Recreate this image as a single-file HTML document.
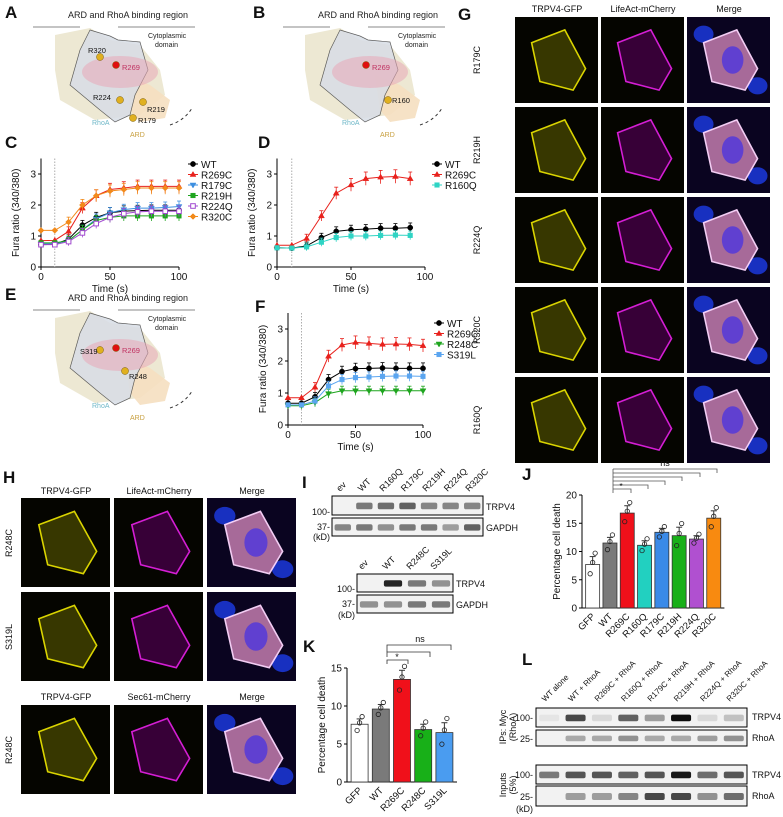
<!DOCTYPE html>
<html><head><meta charset="utf-8"><style>
html,body{margin:0;padding:0;background:#fff}
svg{display:block;font-family:"Liberation Sans",Arial,sans-serif}
</style></head><body>
<svg id="fig" width="783" height="817" viewBox="0 0 783 817" xmlns="http://www.w3.org/2000/svg"></svg>
<script>
// ---- Data ----
const timesC = [0,10,20,30,40,50,60,70,80,90,100];
const seriesNamesC = ["WT","R269C","R179C","R219H","R224Q","R320C"];
const cWT    = [0.72,0.73,0.9,1.35,1.6,1.75,1.8,1.82,1.83,1.83,1.83];
const cR269C = [0.85,0.86,1.15,1.9,2.3,2.5,2.55,2.6,2.6,2.6,2.6];
const cR179C = [0.75,0.75,0.85,1.2,1.55,1.75,1.85,1.9,1.9,1.92,1.95];
const cR219H = [0.78,0.78,0.85,1.2,1.5,1.6,1.65,1.65,1.65,1.65,1.65];
const cR224Q = [0.72,0.72,0.82,1.1,1.4,1.6,1.72,1.78,1.8,1.8,1.8];
const cR320C = [1.18,1.18,1.45,2.0,2.3,2.45,2.5,2.55,2.55,2.55,2.55];
const timesD = [0,10,20,30,40,50,60,70,80,90];
const seriesNamesD = ["WT","R269C","R160Q"];
const dWT    = [0.62,0.61,0.68,0.95,1.15,1.2,1.22,1.25,1.25,1.27];
const dR269C = [0.7,0.7,0.92,1.65,2.38,2.65,2.85,2.9,2.92,2.85];
const dR160Q = [0.62,0.61,0.65,0.8,0.95,1.0,1.0,1.02,1.03,1.02];
const timesF = [0,10,20,30,40,50,60,70,80,90,100];
const seriesNamesF = ["WT","R269C","R248C","S319L"];
const fWT    = [0.68,0.68,0.88,1.42,1.67,1.76,1.77,1.78,1.77,1.77,1.77];
const fR269C = [0.85,0.85,1.18,2.15,2.5,2.58,2.55,2.52,2.53,2.52,2.48];
const fR248C = [0.6,0.6,0.7,0.98,1.07,1.07,1.07,1.07,1.07,1.07,1.07];
const fS319L = [0.63,0.63,0.75,1.22,1.42,1.48,1.5,1.52,1.53,1.53,1.52];
const yTicksRatio = [0,1,2,3];
const xTicksTime = [0,50,100];
const catsJ = ["GFP","WT","R269C","R160Q","R179C","R219H","R224Q","R320C"];
const valsJ = [7.7,11.5,16.8,11.1,13.4,12.8,12.2,15.9];
const errJ  = [1.4,1.0,1.3,0.8,0.7,1.5,0.6,1.3];
const ticksJ = [0,5,10,15,20];
const catsK = ["GFP","WT","R269C","R248C","S319L"];
const valsK = [7.6,9.6,13.5,6.9,6.5];
const errK  = [0.7,0.6,1.2,0.7,1.3];
const ticksK = [0,5,10,15];

const S = document.getElementById('fig');
const NS = "http://www.w3.org/2000/svg";
function el(tag, attrs, parent){const e=document.createElementNS(NS,tag);for(const k in attrs)e.setAttribute(k,attrs[k]);(parent||S).appendChild(e);return e;}
function txt(x,y,s,size,opts){opts=opts||{};const t=el('text',{x:x,y:y,'font-size':size,fill:opts.fill||'#111','text-anchor':opts.anchor||'start','font-weight':opts.bold?'bold':'normal'});if(opts.rot)t.setAttribute('transform','rotate('+opts.rot+' '+x+' '+y+')');t.textContent=s;return t;}
function lab(x,y,s){const t=txt(x,y,s,17,{bold:true});}

[["A",5,18],["B",253,18],["C",5,148],["D",258,148],["E",5,300],["F",255,312],["G",458,20],["H",3,483],["I",302,488],["J",522,480],["K",303,652],["L",522,665]].forEach(a=>lab(a[1],a[2],a[0]));

function diagram(dx,dy,residues,name){
  const g=el('g',{transform:'translate('+dx+','+dy+')'});
  
  
  const t=el('text',{x:128,y:18,'font-size':9,'text-anchor':'middle',fill:'#222'},g);t.textContent='ARD and RhoA binding region';
  el('line',{x1:33,y1:27,x2:80,y2:27,stroke:'#888'},g);
  el('line',{x1:118,y1:27,x2:195,y2:27,stroke:'#888'},g);
  el('path',{d:'M55,35 L90,28 L110,40 L140,45 L160,70 L165,95 L140,115 L95,120 L60,100 L55,70 Z',fill:'#e9e2c8',opacity:0.8},g);
  el('path',{d:'M125,75 L150,85 L170,100 L165,118 L140,122 L130,110 Z',fill:'#f5dfc0',opacity:0.9},g);
  el('path',{d:'M90,30 L110,36 L118,40 L140,42 L148,70 L135,95 L130,115 L115,122 L100,110 L70,85 L80,50 Z',fill:'#d8dde6',stroke:'#444','stroke-width':0.7,opacity:0.85},g);
  el('ellipse',{cx:120,cy:72,rx:38,ry:16,fill:'#e8a8b8',opacity:0.55},g);
  const t2=el('text',{x:148,y:38,'font-size':7,fill:'#222'},g);t2.textContent='Cytoplasmic';
  const t3=el('text',{x:155,y:47,'font-size':7,fill:'#222'},g);t3.textContent='domain';
  const t4=el('text',{x:92,y:125,'font-size':7,fill:'#6fb8c8'},g);t4.textContent='RhoA';
  const t5=el('text',{x:130,y:137,'font-size':7,fill:'#c8a040'},g);t5.textContent='ARD';
  el('path',{d:'M170,125 Q185,120 192,108',fill:'none',stroke:'#333','stroke-dasharray':'3,3'},g);
  residues.forEach(r=>{
    el('circle',{cx:r[0],cy:r[1],r:3.5,fill:r[3]?'#e01010':'#e0b020',stroke:'#7a5a00','stroke-width':0.5},g);
    const tt=el('text',{x:r[0]+r[4],y:r[1]+r[5],'font-size':7.5,fill:r[3]?'#c03060':'#111'},g);tt.textContent=r[2];
  });
}
diagram(0,0,[[100,57,'R320',0,-12,-4],[116,65,'R269',1,6,5],[120,100,'R224',0,-27,0],[143,102,'R219',0,4,10],[133,118,'R179',0,5,5]],'structure-diagram-a');
diagram(250,0,[[116,65,'R269',1,6,5],[138,100,'R160',0,4,3]],'structure-diagram-b');
diagram(0,283,[[100,67,'S319',0,-20,4],[116,65,'R269',1,6,5],[125,88,'R248',0,4,8]],'structure-diagram-e');

const markers={WT:['circle','#000',false],R269C:['triup','#e8211c',false],R179C:['tridown','#3d8fe0',false],R219H:['square','#1fa51f',false],R224Q:['square','#a24bd0',true],R320C:['diamond','#f28a1a',false],R160Q:['square','#2ed4c4',false],R248C:['tridown','#1fa51f',false],S319L:['square','#5aa5f0',false]};
function marker(g,type,x,y,c,open){
  let e;
  if(type==='circle')e=el('circle',{cx:x,cy:y,r:2.6},g);
  else if(type==='square')e=el('rect',{x:x-2.3,y:y-2.3,width:4.6,height:4.6},g);
  else if(type==='triup')e=el('path',{d:`M${x},${y-3} L${x+3},${y+2} L${x-3},${y+2}Z`},g);
  else if(type==='tridown')e=el('path',{d:`M${x},${y+3} L${x+3},${y-2} L${x-3},${y-2}Z`},g);
  else e=el('path',{d:`M${x},${y-3} L${x+3},${y} L${x},${y+3} L${x-3},${y}Z`},g);
  e.setAttribute('fill',open?'#fff':c);e.setAttribute('stroke',c);e.setAttribute('stroke-width',open?1:0.5);
}
function lineChart(cfg){
  const g=el('g',{});
  
  
  const X=t=>cfg.x0+(cfg.x1-cfg.x0)*t/100, Y=v=>cfg.y0-(cfg.y0-cfg.y3)*v/3;
  el('line',{x1:cfg.x0,y1:Y(3.5),x2:cfg.x0,y2:cfg.y0,stroke:'#000','stroke-width':1},g);
  el('line',{x1:cfg.x0,y1:cfg.y0,x2:X(100),y2:cfg.y0,stroke:'#000','stroke-width':1},g);
  el('line',{x1:X(10),y1:Y(3.5),x2:X(10),y2:cfg.y0,stroke:'#999','stroke-dasharray':'1.5,1.5','stroke-width':0.8},g);
  yTicksRatio.forEach(v=>{el('line',{x1:cfg.x0-3,y1:Y(v),x2:cfg.x0,y2:Y(v),stroke:'#000'},g);const t=el('text',{x:cfg.x0-5,y:Y(v)+3.5,'font-size':10,'text-anchor':'end',fill:'#111'},g);t.textContent=v;});
  xTicksTime.forEach(v=>{el('line',{x1:X(v),y1:cfg.y0,x2:X(v),y2:cfg.y0+3,stroke:'#000'},g);const t=el('text',{x:X(v),y:cfg.y0+13,'font-size':10,'text-anchor':'middle',fill:'#111'},g);t.textContent=v;});
  const tl=el('text',{x:X(50),y:cfg.y0+25,'font-size':10,'text-anchor':'middle',fill:'#111'},g);tl.textContent='Time (s)';
  
  const yl=el('text',{x:cfg.x0-22,y:(cfg.y0+Y(3.5))/2,'font-size':10,'text-anchor':'middle',fill:'#111',transform:`rotate(-90 ${cfg.x0-22} ${(cfg.y0+Y(3.5))/2})`},g);yl.textContent='Fura ratio (340/380)';
  
  cfg.series.forEach((s,i)=>{
    const m=markers[s.n];
    const sg=el('g',{},g);
    
    
    el('polyline',{points:s.v.map((v,k)=>X(cfg.t[k])+','+Y(v)).join(' '),fill:'none',stroke:m[1],'stroke-width':1},sg);
    s.v.forEach((v,k)=>{
      if(k>=2){const e=0.1+v*0.04;el('line',{x1:X(cfg.t[k]),y1:Y(v-e),x2:X(cfg.t[k]),y2:Y(v+e),stroke:m[1],'stroke-width':0.8},sg);el('line',{x1:X(cfg.t[k])-2,y1:Y(v+e),x2:X(cfg.t[k])+2,y2:Y(v+e),stroke:m[1],'stroke-width':0.8},sg);}
      marker(sg,m[0],X(cfg.t[k]),Y(v),m[1],m[2]);
    });
    const ly=cfg.ly+i*10.5;
    const lg=el('g',{},g);
    
    
    el('line',{x1:cfg.lx,y1:ly,x2:cfg.lx+10,y2:ly,stroke:m[1]},lg);
    marker(lg,m[0],cfg.lx+5,ly,m[1],m[2]);
    const lt=el('text',{x:cfg.lx+13,y:ly+4,'font-size':10,fill:'#111'},lg);lt.textContent=s.n;
  });
}
lineChart({name:'chart-c',x0:41,x1:179,y0:267,y3:174,t:timesC,lx:188,ly:164,series:[{n:'WT',v:cWT},{n:'R269C',v:cR269C},{n:'R179C',v:cR179C},{n:'R219H',v:cR219H},{n:'R224Q',v:cR224Q},{n:'R320C',v:cR320C}]});
lineChart({name:'chart-d',x0:277,x1:425,y0:267,y3:174,t:timesD,lx:432,ly:164,series:[{n:'WT',v:dWT},{n:'R269C',v:dR269C},{n:'R160Q',v:dR160Q}]});
lineChart({name:'chart-f',x0:288,x1:423,y0:425,y3:329,t:timesF,lx:434,ly:323,series:[{n:'WT',v:fWT},{n:'R269C',v:fR269C},{n:'R248C',v:fR248C},{n:'S319L',v:fS319L}]});

const chanCol=['#e6e000','#e020e0','#ffffff'];
function micro(x,y,w,h,col,kind,name){
  const g=el('g',{});
  
  
  el('rect',{x:x,y:y,width:w,height:h,fill:kind===2?'#0a0420':'#050500'},g);
  if(kind===2){el('ellipse',{cx:x+w*0.2,cy:y+h*0.2,rx:w*0.12,ry:h*0.1,fill:'#1830c0'},g);el('ellipse',{cx:x+w*0.85,cy:y+h*0.8,rx:w*0.12,ry:h*0.1,fill:'#1830c0'},g);}
  el('path',{d:`M${x+w*0.2},${y+h*0.3} L${x+w*0.6},${y+h*0.15} L${x+w*0.85},${y+h*0.6} L${x+w*0.7},${y+h*0.85} L${x+w*0.3},${y+h*0.75} Z`,fill:kind===2?'#b070a0':(kind===0?'#3a3a00':'#3a003a'),stroke:kind===2?'#ffd8ff':col,'stroke-width':1.6,opacity:0.95},g);
  if(kind===2)el('ellipse',{cx:x+w*0.55,cy:y+h*0.5,rx:w*0.13,ry:h*0.16,fill:'#6040d0'},g);
}
const gCols=[515,601,687], gRows=[17,107,197,287,377], gLabels=['R179C','R219H','R224Q','R320C','R160Q'];
['TRPV4-GFP','LifeAct-mCherry','Merge'].forEach((s,i)=>txt(gCols[i]+42,12,s,9,{anchor:'middle'}));
gRows.forEach((y,r)=>{txt(480,y+43,gLabels[r],9,{anchor:'middle',rot:-90});gCols.forEach((x,c)=>micro(x,y,83,86,chanCol[c],c,'image-g-'+gLabels[r].toLowerCase()+'-'+c));});
const hCols=[21,114,207], hRows=[498,592,705], hLabels=['R248C','S319L','R248C'];
['TRPV4-GFP','LifeAct-mCherry','Merge'].forEach((s,i)=>txt(hCols[i]+45,494,s,9,{anchor:'middle'}));
['TRPV4-GFP','Sec61-mCherry','Merge'].forEach((s,i)=>txt(hCols[i]+45,700,s,9,{anchor:'middle'}));
hRows.forEach((y,r)=>{txt(12,y+45,hLabels[r],9,{anchor:'middle',rot:-90});hCols.forEach((x,c)=>micro(x,y,89,89,chanCol[c],c,'image-h-'+r+'-'+c));});

function blot(x,y,w,h,n,intens,name){
  const g=el('g',{});
  
  
  el('rect',{x:x,y:y,width:w,height:h,fill:'#f2f2f2',stroke:'#000','stroke-width':1},g);
  const lw=w/n;
  intens.forEach((a,i)=>{if(a>0)el('rect',{x:x+i*lw+lw*0.12,y:y+h*0.35,width:lw*0.76,height:h*0.35,fill:'#000',opacity:a,rx:2},g);});
}
const laneI1=['ev','WT','R160Q','R179C','R219H','R224Q','R320C'];
laneI1.forEach((s,i)=>txt(340+i*21.5,492,s,9,{rot:-45}));
blot(332,496,151,19,7,[0,0.5,0.55,0.6,0.45,0.45,0.45],'blot-i-trpv4');
blot(332,518,151,18,7,[0.45,0.5,0.4,0.5,0.5,0.35,0.6],'blot-i-gapdh');
txt(486,510,'TRPV4',9);txt(486,531,'GAPDH',9);
txt(330,515,'100-',9,{anchor:'end'});txt(330,530,'37-',9,{anchor:'end'});txt(330,540,'(kD)',9,{anchor:'end'});
['ev','WT','R248C','S319L'].forEach((s,i)=>txt(362+i*24,570,s,9,{rot:-45}));
blot(357,574,96,18,4,[0,0.85,0.5,0.4],'blot-i2-trpv4');
blot(357,595,96,18,4,[0.4,0.4,0.5,0.5],'blot-i2-gapdh');
txt(456,587,'TRPV4',9);txt(456,608,'GAPDH',9);
txt(355,592,'100-',9,{anchor:'end'});txt(355,607,'37-',9,{anchor:'end'});txt(355,618,'(kD)',9,{anchor:'end'});
const laneL=['WT alone','WT + RhoA','R269C + RhoA','R160Q + RhoA','R179C + RhoA','R219H + RhoA','R224Q + RhoA','R320C + RhoA'];
laneL.forEach((s,i)=>txt(545+i*26.4,702,s,8,{rot:-45}));
blot(536,708,211,19,8,[0.05,0.7,0.1,0.6,0.35,0.95,0.1,0.2],'blot-l-ip-trpv4');
blot(536,730,211,16,8,[0,0.3,0.3,0.4,0.3,0.3,0.35,0.4],'blot-l-ip-rhoa');
blot(536,765,211,19,8,[0.5,0.65,0.65,0.6,0.65,0.9,0.55,0.65],'blot-l-in-trpv4');
blot(536,786,211,20,8,[0,0.35,0.35,0.45,0.7,0.7,0.4,0.55],'blot-l-in-rhoa');
txt(752,720,'TRPV4',9);txt(752,741,'RhoA',9);txt(752,778,'TRPV4',9);txt(752,799,'RhoA',9);
txt(533,721,'100-',9,{anchor:'end'});txt(533,742,'25-',9,{anchor:'end'});txt(533,778,'100-',9,{anchor:'end'});txt(533,800,'25-',9,{anchor:'end'});txt(533,812,'(kD)',9,{anchor:'end'});
txt(506,727,'IPs: Myc',9,{anchor:'middle',rot:-90});txt(516,727,'(RhoA)',9,{anchor:'middle',rot:-90});
txt(506,785,'Inputs',9,{anchor:'middle',rot:-90});txt(516,785,'(5%)',9,{anchor:'middle',rot:-90});

const barColsJ=['#ffffff','#7a7a7a','#f0101a','#22d0c0','#3a8ae8','#18b018','#b050d0','#f88a10'];
const barColsK=['#ffffff','#7a7a7a','#f0101a','#18b018','#4a9cf0'];
function barChart(cfg){
  const g=el('g',{});
  
  
  const Y=v=>cfg.y0-(cfg.y0-cfg.yTop)*v/cfg.max;
  el('line',{x1:cfg.x0,y1:Y(cfg.max),x2:cfg.x0,y2:cfg.y0,stroke:'#000'},g);
  el('line',{x1:cfg.x0,y1:cfg.y0,x2:cfg.x0+cfg.step*(cfg.cats.length)+4,y2:cfg.y0,stroke:'#000'},g);
  cfg.ticks.forEach(v=>{el('line',{x1:cfg.x0-3,y1:Y(v),x2:cfg.x0,y2:Y(v),stroke:'#000'},g);const t=el('text',{x:cfg.x0-5,y:Y(v)+3.5,'font-size':10,'text-anchor':'end',fill:'#111'},g);t.textContent=v;});
  const yl=el('text',{x:cfg.x0-22,y:(cfg.y0+Y(cfg.max))/2,'font-size':10,'text-anchor':'middle',fill:'#111',transform:`rotate(-90 ${cfg.x0-22} ${(cfg.y0+Y(cfg.max))/2})`},g);yl.textContent='Percentage cell death';
  cfg.cats.forEach((c,i)=>{
    const cx=cfg.x0+cfg.step*(i+0.5)+2;
    const b=el('rect',{x:cx-cfg.bw/2,y:Y(cfg.vals[i]),width:cfg.bw,height:cfg.y0-Y(cfg.vals[i]),fill:cfg.cols[i],stroke:'#333','stroke-width':0.8},g);
    
    
    const top=Y(cfg.vals[i]+cfg.err[i]);
    el('line',{x1:cx,y1:Y(cfg.vals[i]),x2:cx,y2:top,stroke:'#333'},g);
    el('line',{x1:cx-3,y1:top,x2:cx+3,y2:top,stroke:'#333'},g);
    [-0.9,0.2,1.1].forEach((d,k)=>el('circle',{cx:cx+(k-1)*2.5,cy:Y(cfg.vals[i]+d*cfg.err[i]*1.3),r:2.2,fill:'none',stroke:'#222','stroke-width':0.8},g));
    const t=el('text',{x:cx+3,y:cfg.y0+9,'font-size':9.5,'text-anchor':'end',fill:'#111',transform:`rotate(-45 ${cx+3} ${cfg.y0+9})`},g);t.textContent=c;
  });
}
barChart({name:'chart-j',cats:catsJ,vals:valsJ,err:errJ,cols:barColsJ,ticks:ticksJ,max:20,x0:582,y0:608,yTop:495,step:17.3,bw:14});
barChart({name:'chart-k',cats:catsK,vals:valsK,err:errK,cols:barColsK,ticks:ticksK,max:15,x0:347,y0:782,yTop:668,step:21.2,bw:17});
// significance brackets J
[[631,489],[648,485],[665,481],[682,477],[700,473],[717,469]].forEach(b=>{
  el('path',{d:`M613,${b[1]} L${b[0]},${b[1]} L${b[0]},${b[1]+4}`,fill:'none',stroke:'#555','stroke-width':0.8});
});
el('line',{x1:613,y1:469,x2:613,y2:493,stroke:'#555','stroke-width':0.8});
txt(621,489,'*',8,{anchor:'middle'});txt(665,466,'ns',9,{anchor:'middle'});
// K brackets
el('path',{d:'M387,664 L387,660 L408,660 L408,664',fill:'none',stroke:'#333','stroke-width':0.8});
el('path',{d:'M387,657 L387,652 L430,652 L430,657',fill:'none',stroke:'#333','stroke-width':0.8});
el('path',{d:'M387,652 L387,645 L451,645 L451,650',fill:'none',stroke:'#333','stroke-width':0.8});
txt(397,660,'*',9,{anchor:'middle'});txt(420,642,'ns',9,{anchor:'middle'});
</script>
</body></html>
